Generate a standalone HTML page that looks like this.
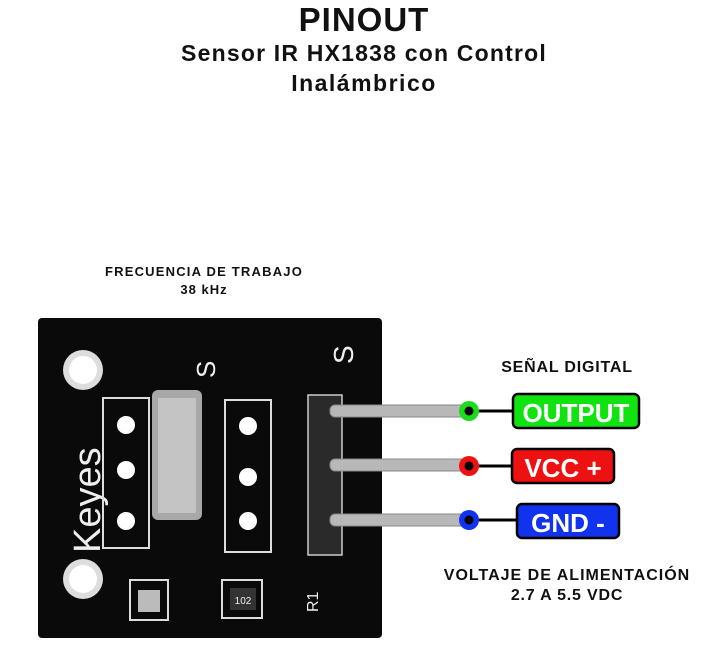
<!DOCTYPE html>
<html><head><meta charset="utf-8"><style>
html,body{margin:0;padding:0;background:#fff;width:710px;height:651px;overflow:hidden}
svg{display:block}
text{font-family:"Liberation Sans",sans-serif;font-weight:bold}
</style></head><body>
<svg width="710" height="651" viewBox="0 0 710 651">
<text x="364" y="31" text-anchor="middle" font-size="33" fill="#111" letter-spacing="1">PINOUT</text>
<text x="364" y="61" text-anchor="middle" font-size="23" fill="#111" letter-spacing="1.2">Sensor IR HX1838 con Control</text>
<text x="364" y="91" text-anchor="middle" font-size="23" fill="#111" letter-spacing="1.5">Inalámbrico</text>
<text x="204" y="276" text-anchor="middle" font-size="13" fill="#111" letter-spacing="1.2">FRECUENCIA DE TRABAJO</text>
<text x="204" y="294" text-anchor="middle" font-size="13" fill="#111" letter-spacing="1">38 kHz</text>
<text x="567" y="372" text-anchor="middle" font-size="16" fill="#111" letter-spacing="0.8">SEÑAL DIGITAL</text>
<text x="567" y="580" text-anchor="middle" font-size="16" fill="#111" letter-spacing="1">VOLTAJE DE ALIMENTACIÓN</text>
<text x="567" y="600" text-anchor="middle" font-size="16" fill="#111" letter-spacing="0.8">2.7 A 5.5 VDC</text>
<!-- board -->
<rect x="38" y="318" width="344" height="320" rx="4" fill="#0a0a0a"/>
<circle cx="83" cy="370" r="20" fill="#ddd"/><circle cx="83" cy="370" r="14" fill="#fff"/>
<circle cx="83" cy="579" r="20" fill="#ddd"/><circle cx="83" cy="579" r="14" fill="#fff"/>
<text transform="translate(100,553) rotate(-90)" font-size="38" fill="#eee" style="font-weight:normal">Keyes</text>
<g fill="none" stroke="#ddd" stroke-width="2">
<rect x="103" y="398" width="46" height="150"/>
<rect x="225" y="400" width="46" height="152"/>
<rect x="130" y="580" width="38" height="40"/>
<rect x="222" y="580" width="40" height="38"/>
</g>
<rect x="308" y="395" width="34" height="160" fill="#2a2a2a" stroke="#ccc" stroke-width="1.5"/>
<g fill="#fff"><circle cx="126" cy="425" r="9"/><circle cx="126" cy="470" r="9"/><circle cx="126" cy="521" r="9"/>
<circle cx="248" cy="426" r="9"/><circle cx="248" cy="477" r="9"/><circle cx="248" cy="521" r="9"/></g>
<rect x="152" y="390" width="50" height="130" rx="6" fill="#a8a8a8"/>
<rect x="158" y="398" width="38" height="115" fill="#c4c4c4"/>
<rect x="138" y="590" width="22" height="22" fill="#bbb"/>
<rect x="230" y="588" width="26" height="22" fill="#333"/>
<text x="243" y="604" text-anchor="middle" font-size="10" fill="#eee" style="font-weight:normal">102</text>
<text transform="translate(215,378) rotate(-90)" font-size="26" fill="#eee" style="font-weight:normal">S</text>
<text transform="translate(353,364) rotate(-90)" font-size="28" fill="#eee" style="font-weight:normal">S</text>
<text transform="translate(318,612) rotate(-90)" font-size="16" fill="#eee" style="font-weight:normal">R1</text>
<!-- pins -->
<g fill="#b8b8b8" stroke="#888" stroke-width="1">
<rect x="330" y="405" width="140" height="12" rx="5"/>
<rect x="330" y="459" width="140" height="12" rx="5"/>
<rect x="330" y="514" width="140" height="12" rx="5"/>
</g>
<!-- connectors -->
<g stroke="#000" stroke-width="3">
<line x1="469" y1="411" x2="514" y2="411"/><line x1="469" y1="466" x2="514" y2="466"/><line x1="469" y1="520" x2="518" y2="520"/>
</g>
<circle cx="469" cy="411" r="10" fill="#1ddc1d"/><circle cx="469" cy="411" r="4.5" fill="#000"/>
<circle cx="469" cy="466" r="10" fill="#ee1111"/><circle cx="469" cy="466" r="4.5" fill="#000"/>
<circle cx="469" cy="520" r="10" fill="#1133ee"/><circle cx="469" cy="520" r="4.5" fill="#000"/>
<rect x="513" y="394" width="126" height="34" rx="5" fill="#11e311" stroke="#000" stroke-width="2.5"/>
<text x="576" y="422" text-anchor="middle" font-size="26" fill="#fff">OUTPUT</text>
<rect x="512" y="449" width="102" height="34" rx="5" fill="#ee1111" stroke="#000" stroke-width="2.5"/>
<text x="563" y="477" text-anchor="middle" font-size="26" fill="#fff">VCC +</text>
<rect x="517" y="504" width="102" height="34" rx="5" fill="#1133ee" stroke="#000" stroke-width="2.5"/>
<text x="568" y="532" text-anchor="middle" font-size="26" fill="#fff">GND -</text>
</svg>
</body></html>
